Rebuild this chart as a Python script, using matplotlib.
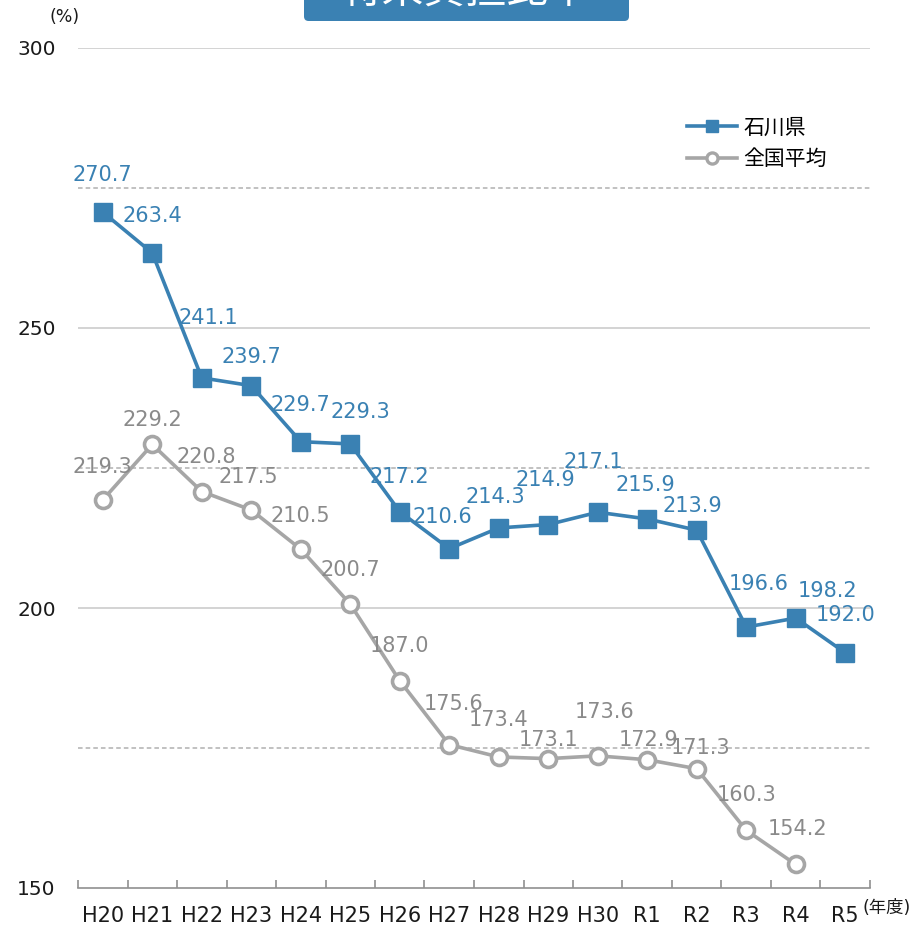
import numpy as np
import matplotlib
matplotlib.use("Agg")
import matplotlib.pyplot as plt
from matplotlib.patches import FancyBboxPatch
from matplotlib.lines import Line2D

plt.rcParams['font.family'] = ['DejaVu Sans', 'Noto Sans CJK JP']

# ---- data ----
categories = ["H20", "H21", "H22", "H23", "H24", "H25", "H26", "H27",
              "H28", "H29", "H30", "R1", "R2", "R3", "R4", "R5"]
ishikawa = [270.7, 263.4, 241.1, 239.7, 229.7, 229.3, 217.2, 210.6,
            214.3, 214.9, 217.1, 215.9, 213.9, 196.6, 198.2, 192.0]
national = [219.3, 229.2, 220.8, 217.5, 210.5, 200.7, 187.0, 175.6,
            173.4, 173.1, 173.6, 172.9, 171.3, 160.3, 154.2, np.nan]
series_names = ["石川県", "全国平均"]
title_text = "将来負担比率"
y_ticks = [150, 200, 250, 300]

# label offsets (pixels) for data labels
ish_off = [(0, 37), (0, 37), (7, 60), (0, 29), (0, 37), (10, 32), (0, 35), (-7, 32),
           (-3, 31), (-3, 45), (-4, 50), (-2, 34), (-4, 24), (12, 43), (32, 27), (0, 38)]
nat_off = [(0, 33), (0, 24), (4, 35), (-3, 33), (0, 33), (0, 34), (0, 35), (4, 41),
           (0, 37), (0, 19), (7, 44), (1, 20), (4, 21), (0, 35), (2, 35), (0, 0)]

BLUE = "#3a81b3"
GRAY = "#a6a6a6"
GRAY_TXT = "#8a8a8a"

W, H = 924, 933
fig = plt.figure(figsize=(W / 100, H / 100), dpi=100)
ax = fig.add_axes([78 / W, 1 - 888 / H, 792 / W, 840 / H])

x = np.arange(len(categories))
ax.set_xlim(-0.5, len(categories) - 0.5)
ax.set_ylim(150, 300)

# gridlines
for yv in [200, 250, 300]:
    ax.axhline(yv, color="#c8c8c8", lw=1.1, zorder=0)
for yv in [175, 225, 275]:
    ax.axhline(yv, color="#b0b0b0", lw=1.1, ls=(0, (3, 2)), zorder=0)

ax.plot(x, national, color=GRAY, lw=2.6, marker="o", ms=11.5,
        mfc="white", mec=GRAY, mew=2.6, zorder=3, clip_on=False)
ax.plot(x, ishikawa, color=BLUE, lw=2.6, marker="s", ms=13.5,
        mfc=BLUE, mec=BLUE, zorder=4, clip_on=False)

for i, v in enumerate(ishikawa):
    dx, dy = ish_off[i]
    ax.annotate(f"{v:.1f}", (x[i], v), xytext=(dx, dy), textcoords="offset pixels",
                ha="center", va="center", fontsize=15, color=BLUE, zorder=5)
for i, v in enumerate(national):
    if np.isnan(v):
        continue
    dx, dy = nat_off[i]
    ax.annotate(f"{v:.1f}", (x[i], v), xytext=(dx, dy), textcoords="offset pixels",
                ha="center", va="center", fontsize=15, color=GRAY_TXT, zorder=5)

# axes styling
for s in ["top", "right", "left"]:
    ax.spines[s].set_visible(False)
ax.spines["bottom"].set_color("#909090")
ax.spines["bottom"].set_linewidth(1.2)
ax.set_yticks(y_ticks)
ax.set_yticklabels([str(t) for t in y_ticks], fontsize=14.5, color="#1a1a1a")
ax.tick_params(axis="y", length=0, pad=16)
ax.set_xticks(x)
ax.set_xticklabels(categories, fontsize=15, color="#1a1a1a")
ax.tick_params(axis="x", which="major", length=0, pad=13)
ax.set_xticks(np.arange(-0.5, len(categories)), minor=True)
ax.tick_params(axis="x", which="minor", direction="in", length=6, color="#909090", width=1.2)

# legend
h1 = Line2D([], [], color=BLUE, lw=2.6, marker="s", ms=9, mfc=BLUE, mec=BLUE)
h2 = Line2D([], [], color=GRAY, lw=2.6, marker="o", ms=8, mfc="white", mec=GRAY, mew=2.4)
leg = fig.legend([h1, h2], series_names, loc="upper left",
                 bbox_to_anchor=(668 / W, 1 - 99 / H), frameon=False,
                 fontsize=15, handlelength=2.4, handletextpad=0.3, labelspacing=0.55)

# unit labels
fig.text(65 / W, 1 - 17 / H, "(%)", ha="center", va="center", fontsize=12.5, color="#1a1a1a")
fig.text(887 / W, 1 - 908 / H, "(年度)", ha="center", va="center", fontsize=12.5, color="#1a1a1a")

# title box (partially cut off at top, as in the reference)
box = FancyBboxPatch((304 / W, 1 - 21 / H), 325 / W, 60 / H,
                     boxstyle="round,pad=0,rounding_size=0.005",
                     transform=fig.transFigure, facecolor=BLUE, edgecolor="none")
fig.patches.append(box)
fig.text(466 / W, 1 + 9 / H, title_text, ha="center", va="center",
         fontsize=30, color="white")

fig.savefig("out.png", dpi=100)
